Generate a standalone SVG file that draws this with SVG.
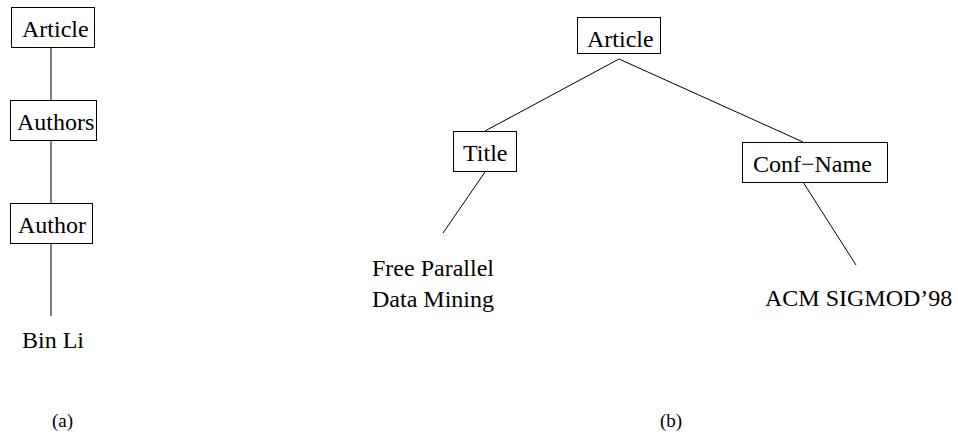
<svg xmlns="http://www.w3.org/2000/svg" width="958" height="432" viewBox="0 0 958 432">
<style>
text{font-family:"Liberation Serif","Times New Roman",serif;font-size:24px;fill:#000}
.box{fill:#fff;stroke:#000;stroke-width:1}
.edge{stroke:#000;stroke-width:1;fill:none}
.cap{font-size:19px}
</style>
<rect width="958" height="432" fill="#fff"/>
<g id="connectors">
<line class="edge" x1="51" y1="48" x2="51" y2="100"/>
<line class="edge" x1="51" y1="141" x2="51" y2="203"/>
<line class="edge" x1="51" y1="244" x2="51" y2="316"/>
<line class="edge" x1="619" y1="59" x2="485" y2="131"/>
<line class="edge" x1="619" y1="59" x2="803" y2="142"/>
<line class="edge" x1="485" y1="172" x2="443" y2="233"/>
<line class="edge" x1="803" y1="182" x2="856" y2="265"/>
</g>
<g id="a-article"><rect class="box" x="11.5" y="7.5" width="83" height="40"/><text x="22" y="37">Article</text></g>
<g id="a-authors"><rect class="box" x="10.5" y="100.5" width="86" height="40"/><text x="17" y="130">Authors</text></g>
<g id="a-author"><rect class="box" x="10.5" y="203.5" width="82" height="40"/><text x="18" y="233">Author</text></g>
<g id="a-binli"><text x="22" y="348">Bin Li</text></g>
<g id="b-article"><rect class="box" x="577.5" y="17.5" width="83" height="36"/><text x="587" y="47">Article</text></g>
<g id="b-title"><rect class="box" x="453.5" y="131.5" width="63" height="40"/><text x="463" y="161">Title</text></g>
<g id="b-confname"><rect class="box" x="742.5" y="142.5" width="145" height="40"/><text x="753" y="172">Conf−Name</text></g>
<g id="b-title-value"><text x="372" y="276">Free Parallel</text><text x="372" y="307">Data Mining</text></g>
<g id="b-conf-value"><text x="765" y="306">ACM SIGMOD’98</text></g>
<g id="captions"><text class="cap" x="52" y="427">(a)</text><text class="cap" x="660" y="427">(b)</text></g>
</svg>
